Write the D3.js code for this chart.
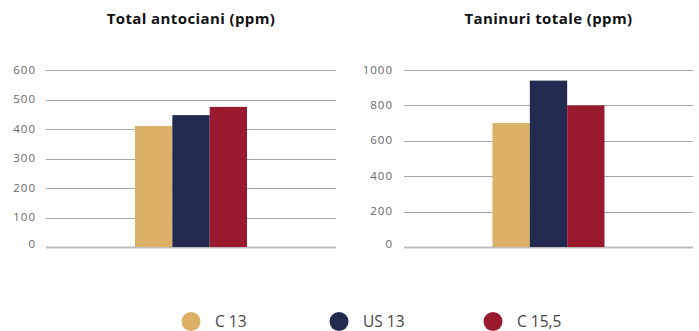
<!DOCTYPE html>
<html>
<head>
<meta charset="utf-8">
<script src="https://cdn.jsdelivr.net/npm/d3@7"></script>
<style>
  html, body { margin: 0; padding: 0; background: #fff; }
  svg { display: block; }
</style>
</head>
<body>
<svg id="chart" width="699" height="331"></svg>
<script>
// Series and categories
const series = ["C 13", "US 13", "C 15,5"];
const colors = ["#dbb067", "#222a50", "#991a2f"];

const antocianiValues = [410, 447, 475];
const antocianiTicks = [0, 100, 200, 300, 400, 500, 600];

const taninuriValues = [700, 940, 800];
const taninuriTicks = [0, 200, 400, 600, 800, 1000];

const panels = [
  { title: "Total antociani (ppm)", values: antocianiValues, ticks: antocianiTicks, x0: 46, x1: 336, labelX: 36 },
  { title: "Taninuri totale (ppm)", values: taninuriValues, ticks: taninuriTicks, x0: 404, x1: 693, labelX: 393 }
];

const svg = d3.select("#chart");
const yTop = 70, yBottom = 247;
const font = "'Open Sans', 'Liberation Sans', sans-serif";

panels.forEach(p => {
  const g = svg.append("g");
  const y = d3.scaleLinear()
    .domain([0, d3.max(p.ticks)])
    .range([yBottom, yTop]);

  const cx = (p.x0 + p.x1) / 2;
  const groupW = 112;
  const x = d3.scaleBand()
    .domain(series)
    .range([cx - groupW / 2, cx + groupW / 2])
    .padding(0);

  // gridlines
  g.selectAll("line.grid")
    .data(p.ticks)
    .join("line")
    .attr("class", "grid")
    .attr("x1", p.x0)
    .attr("x2", p.x1)
    .attr("y1", d => Math.round(y(d)) + 0.5)
    .attr("y2", d => Math.round(y(d)) + 0.5)
    .attr("stroke", d => d === 0 ? "#bdbdbd" : "#a6a6a6")
    .attr("stroke-width", d => d === 0 ? 2 : 1);

  // tick labels
  g.selectAll("text.tick")
    .data(p.ticks)
    .join("text")
    .attr("class", "tick")
    .attr("x", p.labelX)
    .attr("y", d => y(d) - (d === 0 ? 3 : 0.5))
    .attr("dy", "0.35em")
    .attr("text-anchor", "end")
    .attr("font-family", font)
    .attr("font-size", 11.5)
    .attr("letter-spacing", 1)
    .attr("fill", "#666")
    .text(d => d);

  // bars
  g.selectAll("rect.bar")
    .data(p.values)
    .join("rect")
    .attr("class", "bar")
    .attr("x", (d, i) => x(series[i]))
    .attr("width", x.bandwidth())
    .attr("y", d => y(d))
    .attr("height", d => yBottom - y(d))
    .attr("fill", (d, i) => colors[i]);

  // title
  g.append("text")
    .attr("x", cx)
    .attr("y", 24)
    .attr("text-anchor", "middle")
    .attr("font-family", font)
    .attr("font-weight", "bold")
    .attr("font-size", 15)
    .attr("letter-spacing", 0.4)
    .attr("fill", "#111")
    .text(p.title);
});

// legend
const legendX = [191, 339, 493];
const legend = svg.append("g");
series.forEach((s, i) => {
  legend.append("circle")
    .attr("cx", legendX[i])
    .attr("cy", 321.5)
    .attr("r", 9.5)
    .attr("fill", colors[i]);
  legend.append("text")
    .attr("x", legendX[i] + 24)
    .attr("y", 326.5)
    .attr("font-family", font)
    .attr("font-size", 15.5)
    .attr("fill", "#444")
    .text(s);
});
</script>
</body>
</html>
